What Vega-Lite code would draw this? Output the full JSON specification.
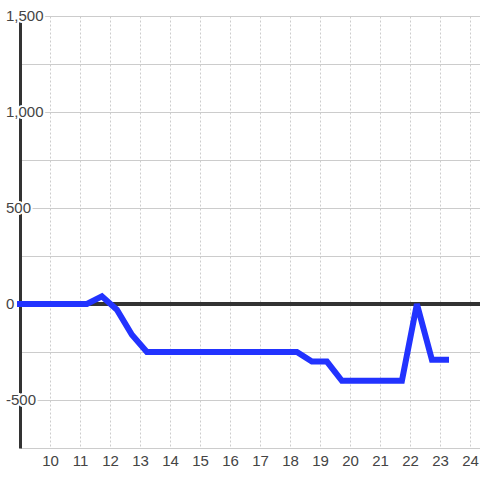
{
  "$schema": "https://vega.github.io/schema/vega-lite/v6.json",
  "width": 460,
  "height": 432,
  "autosize": {"type": "none"},
  "padding": {"left": 20, "top": 16, "right": 0, "bottom": 32},
  "background": "white",
  "config": {
    "view": {"stroke": null},
    "font": "Liberation Sans",
    "axisX": {
      "grid": true, "gridColor": "#cccccc", "gridDash": [2, 2], "domain": false, "ticks": false,
      "labelPadding": 5, "labelFontSize": 15, "labelColor": "#444444", "labelFlush": false, "labelOverlap": false, "title": null
    },
    "axisY": {
      "labels": false, "ticks": false, "grid": true, "gridColor": "#cccccc", "gridDash": [],
      "domain": true, "domainColor": "#333333", "domainWidth": 3, "title": null
    }
  },
  "datasets": {
    "series": [
      {"t": 8.9, "v": 0}, {"t": 9.23, "v": 0}, {"t": 9.73, "v": 0}, {"t": 10.23, "v": 0},
      {"t": 10.73, "v": 0}, {"t": 11.23, "v": 0}, {"t": 11.73, "v": 40}, {"t": 12.23, "v": -30},
      {"t": 12.73, "v": -160}, {"t": 13.23, "v": -250}, {"t": 13.73, "v": -250}, {"t": 14.23, "v": -250},
      {"t": 14.73, "v": -250}, {"t": 15.23, "v": -250}, {"t": 15.73, "v": -250}, {"t": 16.23, "v": -250},
      {"t": 16.73, "v": -250}, {"t": 17.23, "v": -250}, {"t": 17.73, "v": -250}, {"t": 18.23, "v": -250},
      {"t": 18.73, "v": -300}, {"t": 19.23, "v": -300}, {"t": 19.73, "v": -400}, {"t": 20.23, "v": -400},
      {"t": 20.73, "v": -400}, {"t": 21.23, "v": -400}, {"t": 21.73, "v": -400}, {"t": 22.23, "v": 0},
      {"t": 22.73, "v": -290}, {"t": 23.3, "v": -290}
    ],
    "ylabels": [
      {"v": -500, "label": "-500"}, {"v": 0, "label": "0"}, {"v": 500, "label": "500"},
      {"v": 1000, "label": "1,000"}, {"v": 1500, "label": "1,500"}
    ]
  },
  "encoding": {
    "x": {
      "type": "quantitative",
      "scale": {"domain": [9, 24.333], "nice": false, "zero": false},
      "axis": {"values": [10, 11, 12, 13, 14, 15, 16, 17, 18, 19, 20, 21, 22, 23, 24]}
    },
    "y": {
      "type": "quantitative",
      "scale": {"domain": [-750, 1500], "nice": false, "zero": false},
      "axis": {"values": [-750, -500, -250, 0, 250, 500, 750, 1000, 1250, 1500]}
    }
  },
  "layer": [
    {
      "data": {"name": "series"},
      "mark": {"type": "rule", "color": "#333333", "strokeWidth": 3},
      "encoding": {"x": null, "y": {"datum": 0, "type": "quantitative"}}
    },
    {
      "data": {"name": "series"},
      "mark": {"type": "line", "color": "#2233ff", "strokeWidth": 6, "clip": false},
      "encoding": {
        "x": {"field": "t", "type": "quantitative"},
        "y": {"field": "v", "type": "quantitative"}
      }
    },
    {
      "data": {"name": "ylabels"},
      "mark": {"type": "text", "align": "left", "baseline": "middle", "dx": -14, "fontSize": 15, "fill": "white", "stroke": "white", "strokeWidth": 4},
      "encoding": {
        "x": {"datum": 9, "type": "quantitative"},
        "y": {"field": "v", "type": "quantitative"},
        "text": {"field": "label"}
      }
    },
    {
      "data": {"name": "ylabels"},
      "mark": {"type": "text", "align": "left", "baseline": "middle", "dx": -14, "fontSize": 15, "fill": "#444444"},
      "encoding": {
        "x": {"datum": 9, "type": "quantitative"},
        "y": {"field": "v", "type": "quantitative"},
        "text": {"field": "label"}
      }
    }
  ]
}
